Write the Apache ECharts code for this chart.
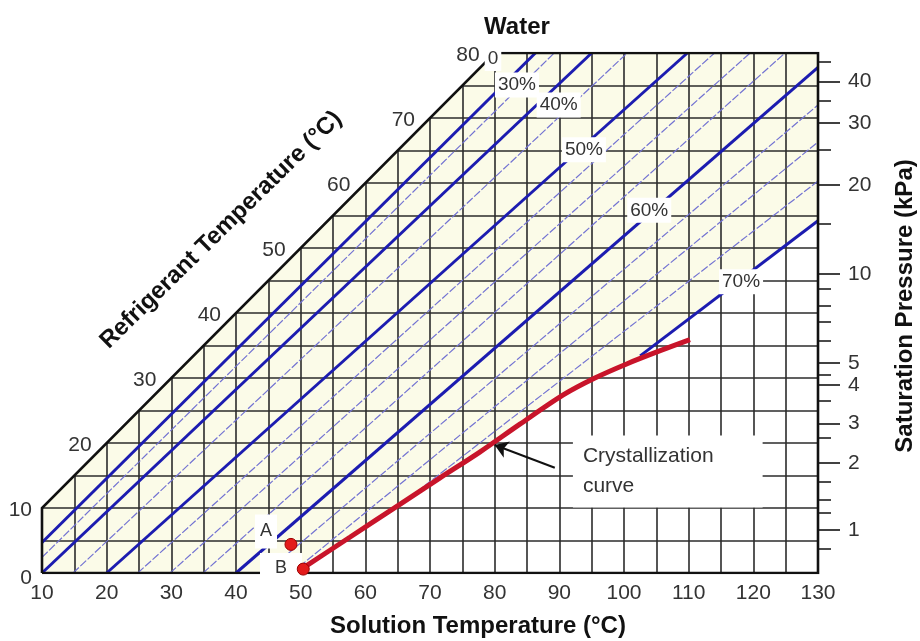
<!DOCTYPE html>
<html>
<head>
<meta charset="utf-8">
<script src="https://cdn.jsdelivr.net/npm/echarts@6/dist/echarts.min.js"></script>
<style>
html, body { margin: 0; padding: 0; background: #fff; }
#main { width: 920px; height: 641px; }
</style>
</head>
<body>
<div id="main"></div>
<script>
// grid of the chart (solution temp on x, refrigerant temp on y)
const gridSol = [10,15,20,25,30,35,40,45,50,55,60,65,70,75,80,85,90,95,100,105,110,115,120,125,130];
const gridRef = [0,5,10,15,20,25,30,35,40,45,50,55,60,65,70,75,80];
const refTicks = [0,10,20,30,40,50,60,70,80];

// concentration lines, [solution temp, refrigerant temp]
const thickStart = [[10,4.7],[10,0],[20,0],[40,0],[102.5,33.4]];
const thickEnd   = [[86.3,80],[95,80],[109.8,80],[130,77.8],[130,54.2]];
const thinStart  = [[10,2.4],[14.8,0],[24.8,0],[29.8,0],[34.9,0],[44.5,0],[48.6,0],[65.5,10.6]];
const thinEnd    = [[89.2,80],[100.5,80],[114,80],[119.5,80],[124.9,80],[130,72],[130,66.3],[130,60.3]];

const concLabels   = ['0','30%','40%','50%','60%','70%'];
const concLabelPos = [[79.74,79.15],[83.45,75.08],[89.9,72.0],[93.8,65.1],[103.9,55.8],[118.1,44.8]];

// crystallization curve
const crystSol = [50.4,57.6,65.4,71.5,77.7,83.9,90.6,95.5,100.5,105.6,110.2];
const crystRef = [0.8,5.5,10.6,14.6,18.6,22.9,27.4,30.0,32.2,34.2,35.9];

// state points A, B
const pointNames = ['A','B'];
const pointSol = [48.5, 50.4];
const pointRef = [4.4, 0.6];
const pointLabelPos = [[44.64,6.38],[46.96,0.77]];

// saturation pressure axis (positions read as refrigerant temps)
const pressLabels   = ['1','2','3','4','5','10','20','30','40'];
const pressLabelRef = [6.6,16.9,23.0,28.9,32.3,46.0,59.7,69.2,75.6];
const pressMinorRef = [3.8,9.2,11.2,14.0,20.8,26.5,30.5,35.8,38.6,41.1,43.8,53.8,65.1,72.7,78.7];

const FONT = '"Liberation Sans", Arial, sans-serif';
const cream = '#fbfbe8';

// 网格线
const gridSegs = [];
gridSol.forEach(s => gridSegs.push({ coords: [[s, 0], [s, Math.min(80, s)]] }));
gridRef.forEach(r => gridSegs.push({ coords: [[Math.max(10, r), r], [130, r]] }));

const thickSegs = thickStart.map((p, i) => ({ coords: [p, thickEnd[i]] }));
const thinSegs = thinStart.map((p, i) => ({ coords: [p, thinEnd[i]] }));

const crystData = crystSol.map((s, i) => [s, crystRef[i]]);

// cream area above the crystallization curve
const creamPts = [[10, 0], [crystSol[0], 0]]
  .concat(crystData.filter(p => p[0] <= 101))
  .concat([thickStart[4], thickEnd[4], [130, 80], [80, 80], [10, 10]]);

const border = [[10, 0], [10, 10], [80, 80], [130, 80], [130, 0], [10, 0]];

// 文字标签
const labelItems = [];
refTicks.forEach(t => labelItems.push({
  pos: [Math.max(10, t), t], text: String(t), size: 21, align: 'right',
  dx: t <= 10 ? -10 : -15, dy: t === 0 ? 5 : 2
}));
concLabels.forEach((c, i) => labelItems.push({
  pos: concLabelPos[i], text: c, size: 19, align: 'center', dx: 0, dy: 0, bg: '#fff', pad: [1, 3]
}));
pointNames.forEach((n, i) => labelItems.push({
  pos: pointLabelPos[i], text: n, size: 18, align: 'center', dx: 0, dy: 0, bg: '#fff',
  pad: i === 0 ? [6, 5] : [4, 15]
}));
labelItems.push({
  pos: [92.1, 15.6], text: 'Crystallization\ncurve', size: 21, align: 'left', dx: 0, dy: 0,
  bg: '#fff', pad: [6, 49, 6, 10], lh: 30
});

const nearestIdx = (arr, v) => {
  let best = 0;
  arr.forEach((a, i) => { if (Math.abs(a - v) < Math.abs(arr[best] - v)) best = i; });
  return best;
};

const chart = echarts.init(document.getElementById('main'));
const option = {
  animation: false,
  backgroundColor: '#fff',
  grid: { left: 42, right: 102, top: 53, bottom: 68, containLabel: false, outerBoundsMode: 'none' },
  xAxis: {
    type: 'value', min: 10, max: 130, interval: 10,
    axisLine: { show: false }, axisTick: { show: false }, splitLine: { show: false },
    axisLabel: { fontSize: 21, color: '#333', margin: 10, fontFamily: FONT }
  },
  yAxis: [
    { type: 'value', min: 0, max: 80, show: false },
    {
      type: 'value', min: 0, max: 80, position: 'right',
      axisLine: { show: false }, splitLine: { show: false },
      axisTick: { show: true, customValues: pressLabelRef, length: 22, lineStyle: { color: '#111', width: 1.6 } },
      axisLabel: {
        show: true, customValues: pressLabelRef, margin: 30, fontSize: 21, color: '#333', fontFamily: FONT,
        formatter: v => pressLabels[nearestIdx(pressLabelRef, v)]
      }
    },
    {
      type: 'value', min: 0, max: 80, position: 'right',
      axisLine: { show: false }, splitLine: { show: false }, axisLabel: { show: false },
      axisTick: { show: true, customValues: pressMinorRef, length: 13, lineStyle: { color: '#111', width: 1.5 } }
    }
  ],
  graphic: [
    { type: 'text', x: 517, y: 27, style: { text: 'Water', fontSize: 24, fontWeight: 'bold', fontFamily: FONT, fill: '#111', align: 'center', verticalAlign: 'middle' } },
    { type: 'text', x: 478, y: 626, style: { text: 'Solution Temperature (°C)', fontSize: 24, fontWeight: 'bold', fontFamily: FONT, fill: '#111', align: 'center', verticalAlign: 'middle' } },
    { type: 'text', x: 221, y: 230, rotation: 0.776, style: { text: 'Refrigerant Temperature (°C)', fontSize: 24, fontWeight: 'bold', fontFamily: FONT, fill: '#111', align: 'center', verticalAlign: 'middle' } },
    { type: 'text', x: 905, y: 306, rotation: Math.PI / 2, style: { text: 'Saturation Pressure (kPa)', fontSize: 24, fontWeight: 'bold', fontFamily: FONT, fill: '#111', align: 'center', verticalAlign: 'middle' } }
  ],
  series: [
    {
      type: 'custom', z: 1, silent: true, data: [[10, 0]],
      renderItem: (params, api) => ({
        type: 'polygon',
        shape: { points: creamPts.map(p => api.coord(p)) },
        style: { fill: cream }
      })
    },
    { type: 'lines', coordinateSystem: 'cartesian2d', z: 2, silent: true, data: gridSegs,
      lineStyle: { color: '#2b2b2b', width: 1.6, opacity: 1 } },
    { type: 'lines', coordinateSystem: 'cartesian2d', z: 3, silent: true, data: thinSegs,
      lineStyle: { color: '#7373d2', width: 1.2, type: [8, 2], opacity: 1 } },
    { type: 'lines', coordinateSystem: 'cartesian2d', z: 4, silent: true, data: thickSegs,
      lineStyle: { color: '#1c1cb0', width: 3, opacity: 1 } },
    { type: 'lines', coordinateSystem: 'cartesian2d', polyline: true, z: 5, silent: true,
      data: [{ coords: border }], lineStyle: { color: '#111', width: 2.6, opacity: 1 } },
    { type: 'line', z: 6, silent: true, data: crystData, smooth: 0.3, symbol: 'none',
      lineStyle: { color: '#c8142a', width: 5 } },
    {
      type: 'custom', z: 7, silent: true, clip: false,
      data: labelItems.map(l => l.pos),
      renderItem: (params, api) => {
        const it = labelItems[params.dataIndex];
        const p = api.coord(it.pos);
        return {
          type: 'text', x: p[0] + it.dx, y: p[1] + it.dy,
          style: {
            text: it.text, fontSize: it.size, fontFamily: FONT, fill: '#333',
            align: it.align, verticalAlign: 'middle',
            backgroundColor: it.bg || 'transparent', padding: it.pad || 0,
            lineHeight: it.lh || Math.round(it.size * 1.2)
          }
        };
      }
    },
    { type: 'lines', coordinateSystem: 'cartesian2d', z: 8, silent: true,
      symbol: ['none', 'arrow'], symbolSize: 13,
      data: [{ coords: [[89.3, 16.2], [80.0, 19.7]] }],
      lineStyle: { color: '#111', width: 2, opacity: 1 } },
    { type: 'scatter', z: 9, silent: true, symbolSize: 12,
      itemStyle: { color: '#e31b1b', borderColor: '#9b0000', borderWidth: 1, opacity: 1 },
      data: pointSol.map((s, i) => ({ name: pointNames[i], value: [s, pointRef[i]] })) }
  ]
};
chart.setOption(option);
</script>
</body>
</html>
